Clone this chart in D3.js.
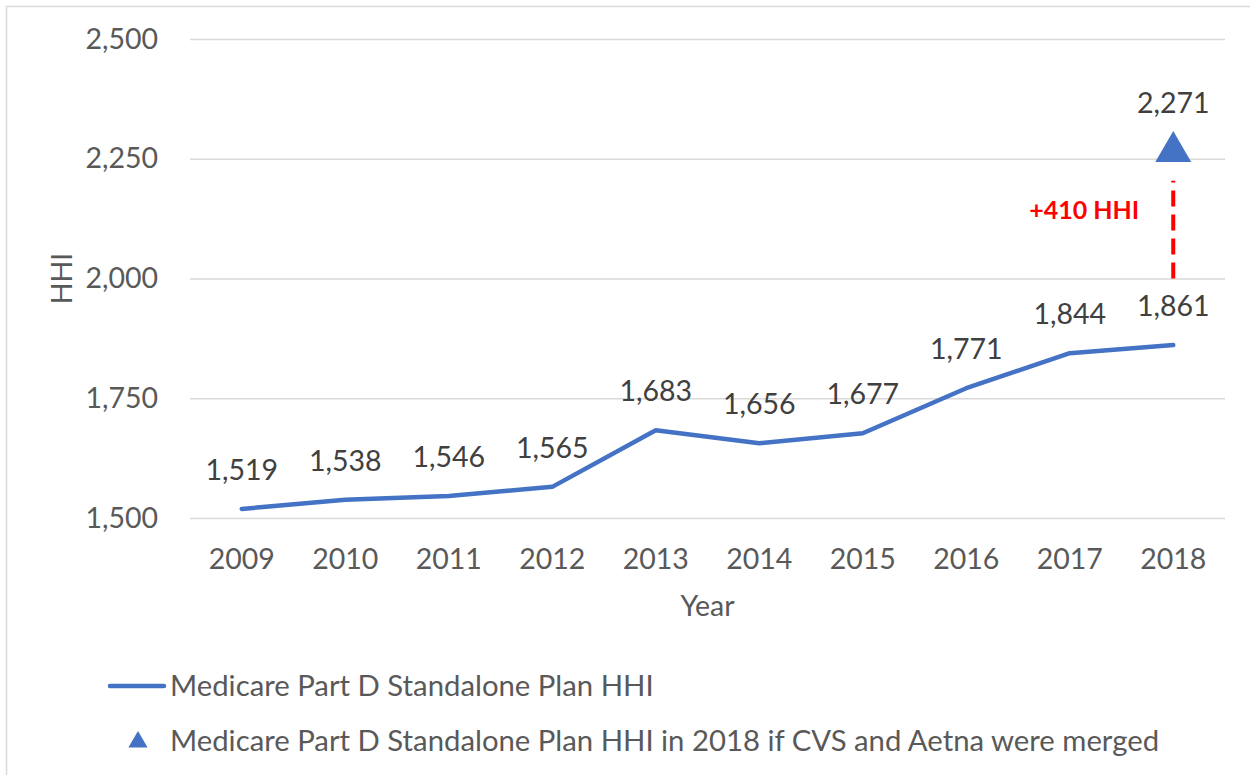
<!DOCTYPE html>
<html>
<head>
<meta charset="utf-8">
<script src="https://cdn.jsdelivr.net/npm/d3@7"></script>
<style>
  body { margin: 0; background: #fff; }
  text { font-family: Lato, "Open Sans", sans-serif; }
</style>
</head>
<body>
<svg id="chart"></svg>
<script>
const years = ['2009', '2010', '2011', '2012', '2013', '2014', '2015', '2016', '2017', '2018']
const hhi = [1519, 1538, 1546, 1565, 1683, 1656, 1677, 1771, 1844, 1861]
const mergedYear = '2018'
const mergedHhi = 2271
const yTicks = [1500, 1750, 2000, 2250, 2500]
const seriesNames = [
  'Medicare Part D Standalone Plan HHI',
  'Medicare Part D Standalone Plan HHI in 2018 if CVS and Aetna were merged',
]

const width = 1250
const height = 775
const blue = '#4472C4'
const grey = '#595959'
const fontSize = '28.5px'
const plot = { left: 190, right: 1225, top: 39, bottom: 518 }

const fmt = d3.format(',')

const svg = d3.select('#chart').attr('width', width).attr('height', height)

// outer chart border
svg
  .append('rect')
  .attr('x', 6.5)
  .attr('y', 6.5)
  .attr('width', 1250)
  .attr('height', 775)
  .attr('fill', 'none')
  .attr('stroke', '#d9d9d9')
  .attr('stroke-width', 1.5)

const x = d3.scaleBand().domain(years).range([plot.left, plot.right])
const y = d3.scaleLinear().domain([1500, 2500]).range([plot.bottom, plot.top])
const cx = (yr) => x(yr) + x.bandwidth() / 2

// gridlines + y labels
const yAxis = d3
  .axisLeft(y)
  .tickValues(yTicks)
  .tickSize(-(plot.right - plot.left))
  .tickPadding(32)
  .tickFormat(fmt)

const gy = svg.append('g').attr('transform', `translate(${plot.left},0)`).call(yAxis)
gy.select('.domain').remove()
gy.selectAll('line').attr('stroke', '#d9d9d9').attr('stroke-width', 1.5)
gy.selectAll('text')
  .attr('fill', grey)
  .style('font-size', fontSize)
  .style('font-family', 'Lato, "Open Sans", sans-serif')

// x labels
const xAxis = d3.axisBottom(x).tickSize(0).tickPadding(31)
const gx = svg.append('g').attr('transform', `translate(0,${plot.bottom})`).call(xAxis)
gx.select('.domain').remove()
gx.selectAll('text')
  .attr('fill', grey)
  .style('font-size', fontSize)
  .style('font-family', 'Lato, "Open Sans", sans-serif')

// axis titles
svg
  .append('text')
  .attr('x', cx('2013') + x.bandwidth() / 2)
  .attr('y', 616)
  .attr('text-anchor', 'middle')
  .attr('fill', grey)
  .style('font-size', fontSize)
  .text('Year')

svg
  .append('text')
  .attr('transform', `translate(72,${y(2000)}) rotate(-90)`)
  .attr('text-anchor', 'middle')
  .attr('fill', grey)
  .style('font-size', fontSize)
  .text('HHI')

// main line
const line = d3
  .line()
  .x((d, i) => cx(years[i]))
  .y((d) => y(d))

svg
  .append('path')
  .datum(hhi)
  .attr('d', line)
  .attr('fill', 'none')
  .attr('stroke', blue)
  .attr('stroke-width', 4.5)
  .attr('stroke-linecap', 'round')
  .attr('stroke-linejoin', 'round')

svg
  .append('g')
  .selectAll('text')
  .data(hhi)
  .join('text')
  .attr('x', (d, i) => cx(years[i]))
  .attr('y', (d) => y(d) - 29)
  .attr('text-anchor', 'middle')
  .attr('fill', '#404040')
  .style('font-size', fontSize)
  .text((d) => fmt(d))

// dashed connector from 2,000 gridline to the merged marker
svg
  .append('line')
  .attr('x1', cx(mergedYear))
  .attr('x2', cx(mergedYear))
  .attr('y1', y(2000))
  .attr('y2', y(mergedHhi) + 32)
  .attr('stroke', '#ff0000')
  .attr('stroke-width', 4)
  .attr('stroke-dasharray', '16,8')

svg
  .append('text')
  .attr('x', cx(mergedYear) - 89)
  .attr('y', 219)
  .attr('text-anchor', 'middle')
  .attr('fill', '#ff0000')
  .style('font-size', '25px')
  .style('font-weight', 'bold')
  .text(`+${mergedHhi - hhi[hhi.length - 1]} HHI`)

// merged marker
const tri = d3.symbol().type(d3.symbolTriangle).size(560)
svg
  .append('path')
  .attr('d', tri)
  .attr('transform', `translate(${cx(mergedYear)},${y(mergedHhi) + 3})`)
  .attr('fill', blue)

svg
  .append('text')
  .attr('x', cx(mergedYear))
  .attr('y', y(mergedHhi) - 36)
  .attr('text-anchor', 'middle')
  .attr('fill', '#404040')
  .style('font-size', fontSize)
  .text(fmt(mergedHhi))

// legend
const legend = svg.append('g')
legend
  .append('line')
  .attr('x1', 110)
  .attr('x2', 164)
  .attr('y1', 686)
  .attr('y2', 686)
  .attr('stroke', blue)
  .attr('stroke-width', 4.5)
  .attr('stroke-linecap', 'round')

legend
  .append('path')
  .attr('d', d3.symbol().type(d3.symbolTriangle).size(160))
  .attr('transform', 'translate(138,742)')
  .attr('fill', blue)

legend
  .selectAll('text')
  .data(seriesNames)
  .join('text')
  .attr('x', 170)
  .attr('y', (d, i) => 696 + i * 55)
  .attr('fill', grey)
  .style('font-size', '29.3px')
  .text((d) => d)
</script>
</body>
</html>
